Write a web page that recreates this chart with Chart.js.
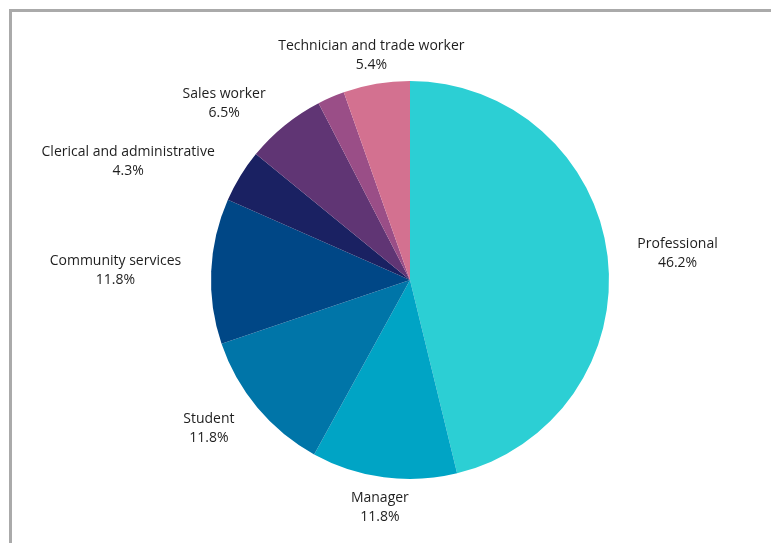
<!DOCTYPE html>
<html lang="en">
<head>
  <meta charset="UTF-8" />
  <title>Occupation breakdown</title>
  <script src="https://cdn.jsdelivr.net/npm/chart.js"></script>
  <style>
    * { margin: 0; padding: 0; box-sizing: border-box; }
    html, body { width: 771px; height: 543px; overflow: hidden; background: #fff; }
    .frame { position: absolute; left: 9px; top: 9px; width: 800px; height: 600px; border: 3px solid #aaa; }
    .wrap { position: absolute; left: 0; top: 0; width: 771px; height: 543px; }
  </style>
</head>
<body>
  <div class="frame"></div>
  <div class="wrap"><canvas id="occChart" width="771" height="543"></canvas></div>
  <script>
    const labels = ['Professional', 'Manager', 'Student', 'Community services', 'Clerical and administrative', 'Sales worker', '', 'Technician and trade worker'];
    const shares = [46.2, 11.8, 11.8, 11.8, 4.3, 6.5, 2.2, 5.4];
    const colours = ['#2ccfd4', '#00a4c5', '#0075a8', '#004786', '#1a2162', '#603574', '#9a4e87', '#d37190'];

    // writes "name / value%" outside each slice, aligned away from the pie
    const outsideLabels = {
      id: 'outsideLabels',
      afterDatasetsDraw(chart) {
        const ctx = chart.ctx;
        const meta = chart.getDatasetMeta(0);
        ctx.save();
        ctx.font = '14px "Open Sans", sans-serif';
        ctx.fillStyle = '#1e1e1e';
        ctx.textBaseline = 'middle';
        meta.data.forEach((arc, i) => {
          if (!labels[i]) return;
          const p = arc.getProps(['x', 'y', 'startAngle', 'endAngle', 'outerRadius'], true);
          const mid = (p.startAngle + p.endAngle) / 2;
          const r = p.outerRadius + 30;
          const ax = p.x + Math.cos(mid) * r;
          const ay = p.y + Math.sin(mid) * r + 1;
          const c = Math.cos(mid);
          const lines = [labels[i], shares[i].toFixed(1) + '%'];
          const widths = lines.map(t => ctx.measureText(t).width);
          const w = Math.max(...widths);
          let cx = ax;
          if (c > 0.5) cx = ax + w / 2;
          else if (c < -0.5) cx = ax - w / 2;
          ctx.textAlign = 'center';
          ctx.fillText(lines[0], cx, ay - 9.5);
          ctx.fillText(lines[1], cx, ay + 9.5);
        });
        ctx.restore();
      }
    };

    new Chart(document.getElementById('occChart'), {
      type: 'pie',
      data: {
        labels: labels,
        datasets: [{ data: shares, backgroundColor: colours, borderWidth: 0 }]
      },
      options: {
        responsive: false,
        animation: false,
        layout: { padding: { left: 211, right: 162, top: 81, bottom: 64 } },
        plugins: { legend: { display: false }, tooltip: { enabled: false } }
      },
      plugins: [outsideLabels]
    });
  </script>
</body>
</html>
